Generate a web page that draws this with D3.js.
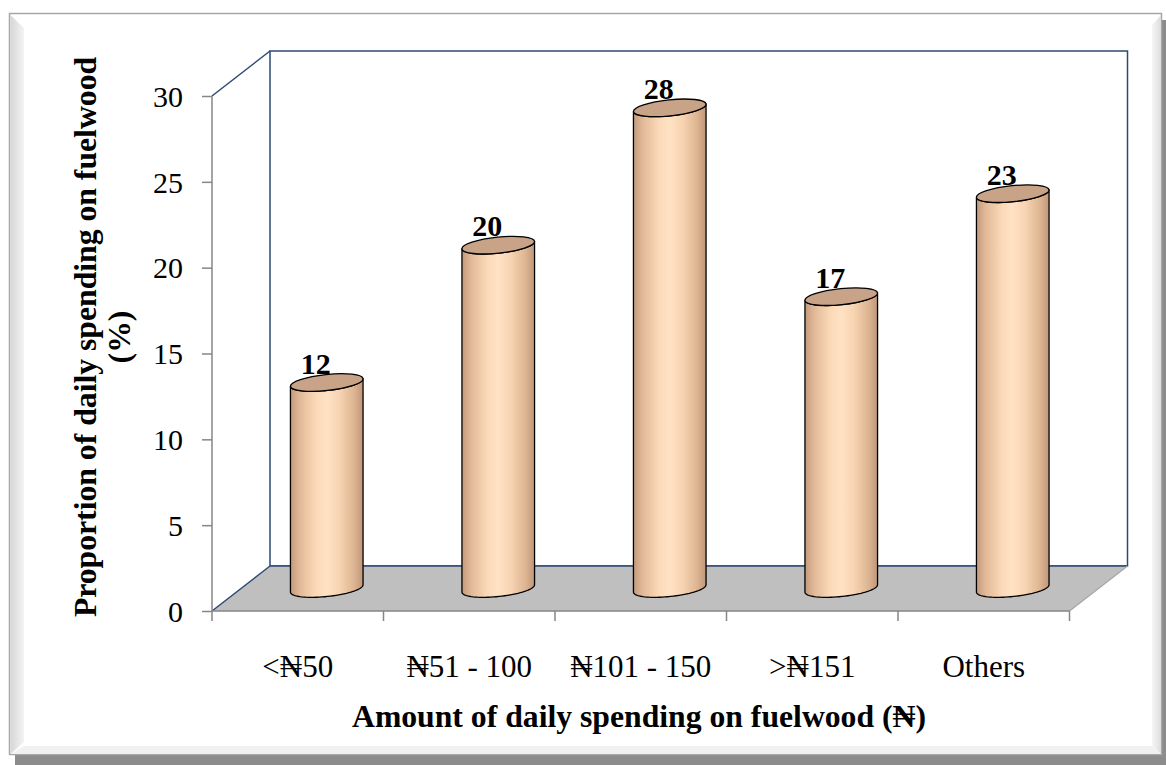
<!DOCTYPE html>
<html lang="en">
<head>
  <meta charset="UTF-8" />
  <title>Amount of daily spending on fuelwood</title>
  <script src="https://d3js.org/d3.v7.min.js"></script>
  <style>
    body {
      margin: 0;
      background: #fff;
    }
    svg text {
      font-family: "Liberation Serif", "Times New Roman", "DejaVu Serif", serif;
      fill: #000;
    }
    .tick-y text { font-size: 30px; }
    .tick-x text { font-size: 31px; }
    .axis-title {
      font-size: 31.7px;
      font-weight: bold;
    }
    .value-label {
      font-size: 30px;
      font-weight: bold;
    }
  </style>
</head>
<body>

<svg width="1166" height="765"></svg>

<script>
  // data
  const categories = ["<\u20A650", "\u20A651 - 100", "\u20A6101 - 150", ">\u20A6151", "Others"];
  const values = [12, 20, 28, 17, 23];
  const yTicks = [0, 5, 10, 15, 20, 25, 30];

  const svg = d3.select("svg");

  // 3D frame geometry
  const x0 = 212, x1 = 1069.5;       // front floor edge
  const yTop = 96, yBottom = 611;    // front y range (30 .. 0)
  const depth = {dx: 58, dy: -45};   // offset to back wall
  const mid = {dx: depth.dx / 2, dy: depth.dy / 2};

  const x = d3.scaleBand().domain(categories).range([x0, x1]);
  const y = d3.scaleLinear().domain([0, 30]).range([yBottom, yTop]);

  const blue = "#2b4a74", axisGray = "#868686";

  // ---- chart area frame with bevel and shadow ----
  const defs = svg.append("defs");
  const lg = defs.append("linearGradient").attr("id", "bevelL");
  lg.append("stop").attr("offset", "0%").attr("stop-color", "#d6d6d6");
  lg.append("stop").attr("offset", "100%").attr("stop-color", "#f4f4f4");
  const rg = defs.append("linearGradient").attr("id", "bevelR");
  rg.append("stop").attr("offset", "0%").attr("stop-color", "#f6f6f6");
  rg.append("stop").attr("offset", "100%").attr("stop-color", "#dedede");

  svg.append("rect")
    .attr("x", 15).attr("y", 20).attr("width", 1151).attr("height", 745)
    .attr("fill", "#8c8c8c");
  svg.append("rect")
    .attr("x", 9.5).attr("y", 13.5).attr("width", 1152).attr("height", 741)
    .attr("fill", "#fff").attr("stroke", "#a6a6a6").attr("stroke-width", 1.5);
  svg.append("polygon")
    .attr("points", "10.5,15 24,28 24,742 10.5,754")
    .attr("fill", "url(#bevelL)");
  svg.append("polygon")
    .attr("points", "1161,15 1161,754 1152,746 1152,25")
    .attr("fill", "url(#bevelR)");
  svg.append("polygon")
    .attr("points", "10.5,754 24,746 1152,746 1161,754")
    .attr("fill", "#f1f1f1");

  // ---- walls and floor ----
  const g = svg.append("g");
  const bx0 = x0 + depth.dx, bx1 = x1 + depth.dx;
  const bTop = yTop + depth.dy, bBottom = yBottom + depth.dy;

  // left side wall
  g.append("polygon")
    .attr("points", [[x0, yTop], [bx0, bTop], [bx0, bBottom], [x0, yBottom]].join(" "))
    .attr("fill", "#fff");
  g.append("line")
    .attr("x1", x0).attr("y1", yTop).attr("x2", bx0).attr("y2", bTop)
    .attr("stroke", blue).attr("stroke-width", 1.5);

  // back wall
  g.append("rect")
    .attr("x", bx0).attr("y", bTop)
    .attr("width", bx1 - bx0).attr("height", bBottom - bTop)
    .attr("fill", "#fff").attr("stroke", blue).attr("stroke-width", 1.5);

  // floor
  g.append("polygon")
    .attr("points", [[x0, yBottom], [bx0, bBottom], [bx1, bBottom], [x1, yBottom]].join(" "))
    .attr("fill", "#bfbfbf");
  g.append("line")
    .attr("x1", x0).attr("y1", yBottom).attr("x2", bx0).attr("y2", bBottom)
    .attr("stroke", blue).attr("stroke-width", 1.5);
  g.append("line")
    .attr("x1", bx0).attr("y1", bBottom).attr("x2", bx1).attr("y2", bBottom)
    .attr("stroke", blue).attr("stroke-width", 1.5);
  g.append("line")
    .attr("x1", x1).attr("y1", yBottom).attr("x2", bx1).attr("y2", bBottom)
    .attr("stroke", "#a6a6a6").attr("stroke-width", 1.2);

  // ---- axes ----
  const yAxis = g.append("g")
    .attr("class", "tick-y")
    .attr("transform", `translate(${x0},0)`)
    .call(d3.axisLeft(y).tickValues(yTicks).tickSize(10).tickPadding(19));
  yAxis.selectAll("line").attr("stroke", axisGray).attr("stroke-width", 1.5);
  yAxis.select(".domain").attr("stroke", axisGray).attr("stroke-width", 1.5)
    .attr("d", `M0,${yTop}V${yBottom}`);
  yAxis.selectAll("text").attr("dy", "0.34em");

  const xAxis = g.append("g")
    .attr("class", "tick-x")
    .attr("transform", `translate(0,${yBottom})`)
    .call(d3.axisBottom(x).tickSize(0).tickPadding(44));
  xAxis.select(".domain").attr("stroke", axisGray).attr("stroke-width", 1.5)
    .attr("d", `M${x0},0H${x1}`);
  // category boundary ticks
  xAxis.selectAll(".bound")
    .data(categories.concat([null]))
    .join("line")
    .attr("class", "bound")
    .attr("x1", (d, i) => x0 + i * x.step())
    .attr("x2", (d, i) => x0 + i * x.step())
    .attr("y1", 0).attr("y2", 10)
    .attr("stroke", axisGray).attr("stroke-width", 1.5);

  // ---- cylinders ----
  const rx = 36.5, ry = 8, theta = -6 * Math.PI / 180;
  const cosT = Math.cos(theta), sinT = Math.sin(theta);
  const pt = (cx, cy, t) => [
    cx + rx * Math.cos(t) * cosT - ry * Math.sin(t) * sinT,
    cy + rx * Math.cos(t) * sinT + ry * Math.sin(t) * cosT
  ];

  const bg = defs.append("linearGradient").attr("id", "body");
  [["0%", "#c29a7b"], ["12%", "#e0b897"], ["35%", "#fbd9b8"], ["50%", "#ffe2c4"],
   ["68%", "#f7d3b1"], ["88%", "#dcb491"], ["100%", "#bf977a"]].forEach(s =>
    bg.append("stop").attr("offset", s[0]).attr("stop-color", s[1]));

  const bars = g.append("g");
  categories.forEach((c, i) => {
    const cx = x(c) + x.bandwidth() / 2 + mid.dx;
    const topY = y(values[i]) + mid.dy;
    const botY = y(0) + mid.dy;

    // body: left side, bottom front arc, right side, top front arc back
    const path = d3.path();
    let p = pt(cx, topY, Math.PI);
    path.moveTo(p[0], p[1]);
    p = pt(cx, botY, Math.PI);
    path.lineTo(p[0], p[1]);
    for (let k = 1; k <= 40; k++) {
      const q = pt(cx, botY, Math.PI - Math.PI * k / 40);
      path.lineTo(q[0], q[1]);
    }
    p = pt(cx, topY, 0);
    path.lineTo(p[0], p[1]);
    for (let k = 1; k <= 40; k++) {
      const q = pt(cx, topY, Math.PI * k / 40);
      path.lineTo(q[0], q[1]);
    }
    path.closePath();
    bars.append("path")
      .attr("d", path.toString())
      .attr("fill", "url(#body)")
      .attr("stroke", "#000").attr("stroke-width", 1.3)
      .attr("stroke-linejoin", "round");

    bars.append("ellipse")
      .attr("cx", cx).attr("cy", topY)
      .attr("rx", rx).attr("ry", ry)
      .attr("transform", `rotate(${theta * 180 / Math.PI},${cx},${topY})`)
      .attr("fill", "#c8a387")
      .attr("stroke", "#000").attr("stroke-width", 1.3);

    bars.append("text")
      .attr("class", "value-label")
      .attr("x", cx - 11)
      .attr("y", topY - 9)
      .attr("text-anchor", "middle")
      .text(values[i]);
  });

  // ---- axis titles ----
  svg.append("text")
    .attr("class", "axis-title")
    .attr("x", 639).attr("y", 727)
    .attr("text-anchor", "middle")
    .text("Amount of daily spending on fuelwood (\u20A6)");

  const yt = svg.append("text")
    .attr("class", "axis-title")
    .attr("transform", "translate(96,337) rotate(-90)")
    .attr("text-anchor", "middle");
  yt.append("tspan").attr("x", 0).attr("y", 0)
    .text("Proportion of daily spending on fuelwood");
  yt.append("tspan").attr("x", 0).attr("y", 34)
    .text("(%)");
</script>

</body>
</html>
